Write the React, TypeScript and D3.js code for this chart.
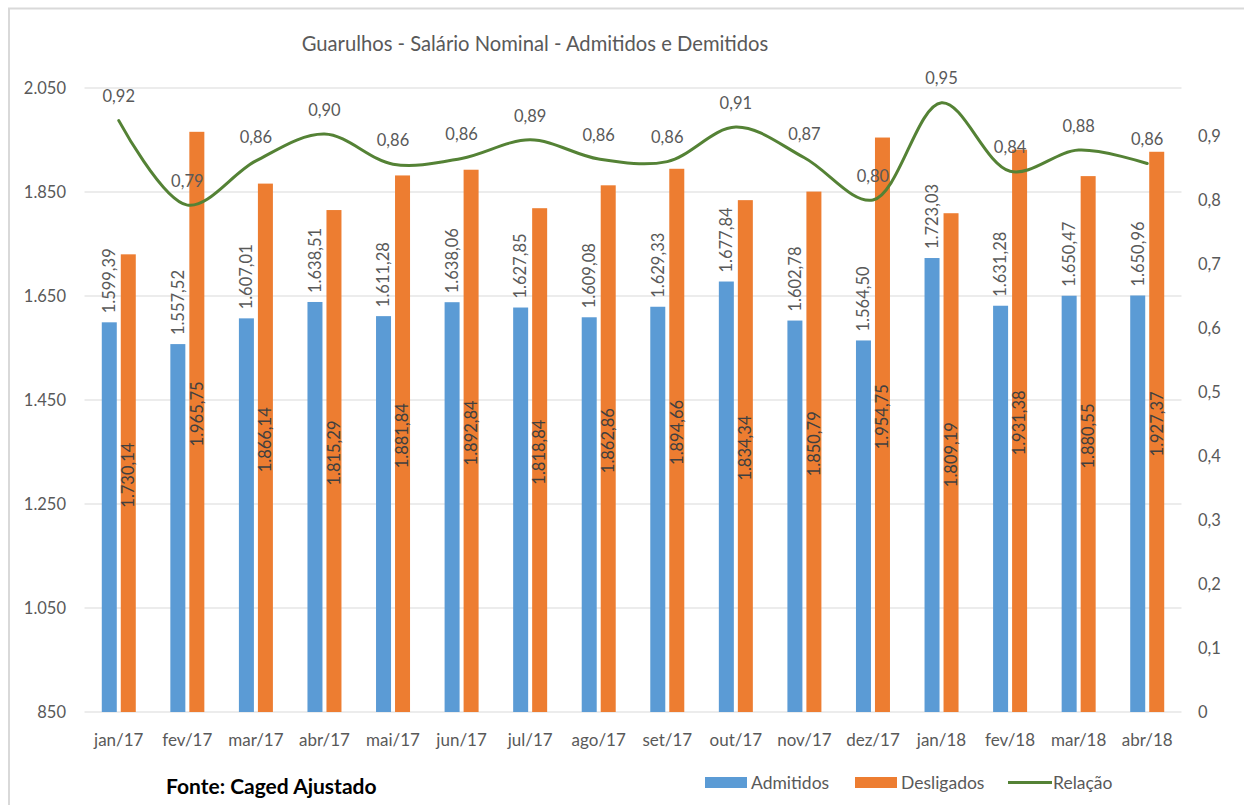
import React from "react";
import * as d3 from "d3";

const categories = ["jan/17","fev/17","mar/17","abr/17","mai/17","jun/17","jul/17","ago/17","set/17","out/17","nov/17","dez/17","jan/18","fev/18","mar/18","abr/18"];
const admitidos = [1599.39,1557.52,1607.01,1638.51,1611.28,1638.06,1627.85,1609.08,1629.33,1677.84,1602.78,1564.50,1723.03,1631.28,1650.47,1650.96];
const desligados = [1730.14,1965.75,1866.14,1815.29,1881.84,1892.84,1818.84,1862.86,1894.66,1834.34,1850.79,1954.75,1809.19,1931.38,1880.55,1927.37];
const relacao = [0.924,0.792,0.861,0.903,0.856,0.865,0.894,0.864,0.860,0.914,0.866,0.800,0.952,0.845,0.878,0.857];
const leftTicks = [850,1050,1250,1450,1650,1850,2050];
const rightTicks = [0,0.1,0.2,0.3,0.4,0.5,0.6,0.7,0.8,0.9];

const W = 1244, H = 805;
const plot = { left: 84.5, right: 1181.5, top: 88, bottom: 712 };
const BLUE = "#5B9BD5", ORANGE = "#ED7D31", GREEN = "#548235", TXT = "#595959", GRID = "#D9D9D9";
const FONT = "Lato, 'Open Sans', sans-serif";
const FS = 16.5;
const LFS = 17.5;

const locale = d3.formatLocale({ decimal: ",", thousands: ".", grouping: [3], currency: ["R$", ""] });
const fmt2 = locale.format(",.2f");
const fmtInt = locale.format(",d");
const fmt1 = locale.format(".1f");
const fmtRel = locale.format(".2f");

export default function App() {
  const x = d3.scaleBand().domain(categories).range([plot.left, plot.right]).padding(0);
  const y = d3.scaleLinear().domain([850, 2050]).range([plot.bottom, plot.top]);
  const y2 = d3.scaleLinear().domain([0, 0.975]).range([plot.bottom, plot.top]);
  const cx = (c: string) => (x(c) as number) + x.bandwidth() / 2;
  const bw = 15, gap = 2;
  const line = d3.line<number>()
    .x((_, i) => cx(categories[i]))
    .y((d) => y2(d))
    .curve(d3.curveCatmullRom.alpha(0.5));

  return (
    <svg width={W} height={H} style={{ position: "absolute", left: 0, top: 0, background: "#fff" }} fontFamily={FONT}>
      <rect x={0} y={0} width={W} height={H} fill="#fff" />
      <rect x={9} y={8.5} width={W + 20} height={H + 20} fill="none" stroke="#D9D9D9" strokeWidth={2} />
      <text x={535} y={51} textAnchor="middle" fontSize={20.2} fill={TXT}>Guarulhos - Salário Nominal - Admitidos e Demitidos</text>

      {leftTicks.map((t) => (
        <g key={t}>
          <line x1={plot.left} x2={plot.right} y1={y(t)} y2={y(t)} stroke={GRID} strokeWidth={1} />
          <text x={66} y={y(t)} dy="0.35em" textAnchor="end" fontSize={FS} fill={TXT}>{fmtInt(t)}</text>
        </g>
      ))}
      {rightTicks.map((t) => (
        <text key={t} x={1198} y={y2(t)} dy="0.35em" textAnchor="start" fontSize={FS} fill={TXT}>{t === 0 ? "0" : fmt1(t)}</text>
      ))}

      {categories.map((c, i) => {
        const c0 = cx(c);
        const yb = y(admitidos[i]);
        const yo = y(desligados[i]);
        return (
          <g key={c}>
            <rect x={c0 - gap - bw} y={yb} width={bw} height={plot.bottom - yb} fill={BLUE} />
            <rect x={c0 + gap} y={yo} width={bw} height={plot.bottom - yo} fill={ORANGE} />
            <text transform={`translate(${c0 - gap - bw / 2},${yb - 9}) rotate(-90)`} dy="0.35em" textAnchor="start" fontSize={FS} fill={TXT}>{fmt2(admitidos[i])}</text>
            <text transform={`translate(${c0 + gap + bw / 2},${(yo + plot.bottom) / 2 - 8}) rotate(-90)`} dy="0.35em" textAnchor="middle" fontSize={FS} fill="#404040">{fmt2(desligados[i])}</text>
            <text x={c0} y={740} dy="0.35em" textAnchor="middle" fontSize={17} fill={TXT}>{c}</text>
          </g>
        );
      })}

      <path d={line(relacao) || ""} fill="none" stroke={GREEN} strokeWidth={3} strokeLinecap="round" />
      {relacao.map((v, i) => (
        <text key={i} x={cx(categories[i])} y={y2(v) - 24} dy="0.35em" textAnchor="middle" fontSize={FS} fill={TXT}>{fmtRel(v)}</text>
      ))}

      <text x={166} y={787} dy="0.35em" fontSize={21} fontWeight="bold" fill="#000">Fonte: Caged Ajustado</text>

      <rect x={705} y={777} width={42} height={11} fill={BLUE} />
      <text x={751} y={782.5} dy="0.35em" fontSize={LFS} fill={TXT}>Admitidos</text>
      <rect x={855} y={777} width={42} height={11} fill={ORANGE} />
      <text x={901} y={782.5} dy="0.35em" fontSize={LFS} fill={TXT}>Desligados</text>
      <line x1={1008} x2={1052} y1={782.5} y2={782.5} stroke={GREEN} strokeWidth={3} />
      <text x={1053} y={782.5} dy="0.35em" fontSize={LFS} fill={TXT}>Relação</text>
    </svg>
  );
}
